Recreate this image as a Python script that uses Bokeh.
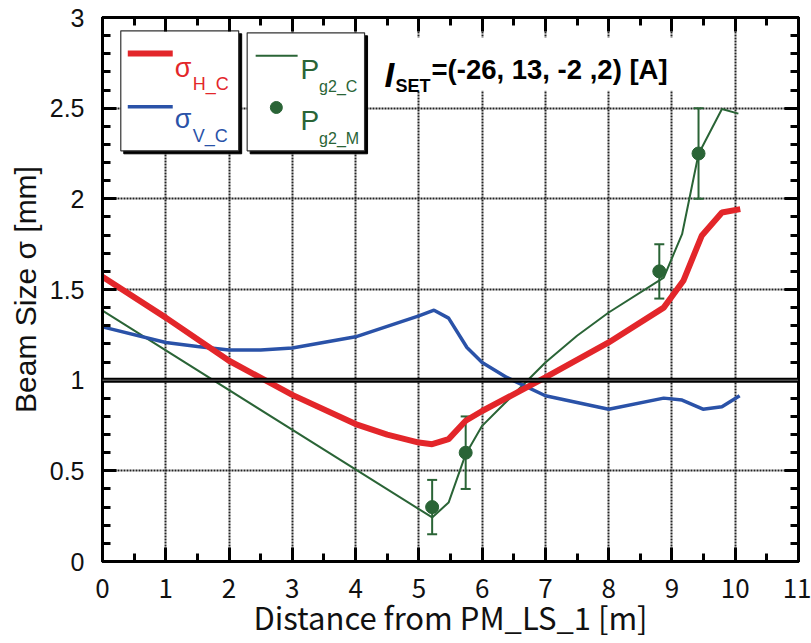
from bokeh.plotting import figure
from bokeh.models import (ColumnDataSource, Range1d, LinearAxis, SingleIntervalTicker,
                          NumeralTickFormatter, CustomJSTickFormatter, Span, Label, Whisker, TeeHead)
from bokeh.embed import file_html
from bokeh.resources import INLINE

# ---------------- data ----------------
sigH_x = [0, 1, 2, 3, 4, 4.5, 5, 5.21, 5.47, 5.74, 6.0, 7.0, 8.0, 8.87, 9.18, 9.47, 9.79, 10.08]
sigH_y = [1.57, 1.345, 1.107, 0.919, 0.758, 0.70, 0.656, 0.647, 0.675, 0.776, 0.83, 1.015, 1.208, 1.40, 1.548, 1.796, 1.925, 1.943]

sigV_x = [0, 1, 1.5, 2, 2.5, 3, 4, 5, 5.24, 5.47, 5.76, 6.0, 6.39, 7.0, 8.0, 8.87, 9.16, 9.49, 9.79, 10.07]
sigV_y = [1.294, 1.208, 1.186, 1.166, 1.166, 1.177, 1.239, 1.355, 1.386, 1.342, 1.18, 1.097, 1.015, 0.914, 0.840, 0.901, 0.89, 0.840, 0.853, 0.914]

pC_x = [0, 5.21, 5.47, 5.74, 6.0, 6.29, 7.0, 7.5, 8.0, 8.87, 9.16, 9.42, 9.79, 10.05]
pC_y = [1.383, 0.243, 0.325, 0.592, 0.748, 0.849, 1.097, 1.245, 1.373, 1.566, 1.805, 2.247, 2.495, 2.47]

pM_x = [5.21, 5.74, 8.80, 9.42]
pM_y = [0.30, 0.60, 1.60, 2.25]
pM_err = [0.15, 0.20, 0.15, 0.25]

X_TITLE = "Distance from PM_LS_1 [m]"
Y_TITLE = "Beam Size σ [mm]"

RED = "#e3262a"
BLUE = "#2a52a8"
GREEN = "#2a6436"

# ---------------- figure ----------------
p = figure(width=811, height=643, output_backend="svg", toolbar_location=None,
           x_range=Range1d(0, 11), y_range=Range1d(0, 3),
           min_border_left=102, min_border_right=13, min_border_top=17, min_border_bottom=82)
p.background_fill_color = "white"
p.border_fill_color = "white"
p.outline_line_color = "black"
p.outline_line_width = 3

xt = SingleIntervalTicker(interval=1, num_minor_ticks=2)
yt = SingleIntervalTicker(interval=0.5, num_minor_ticks=5)

def style_axis(ax):
    ax.axis_line_color = "black"
    ax.axis_line_width = 3
    ax.major_tick_in = 14
    ax.major_tick_out = 0
    ax.minor_tick_in = 8
    ax.minor_tick_out = 0
    ax.major_tick_line_width = 3
    ax.minor_tick_line_width = 3
    ax.major_tick_line_color = "black"
    ax.minor_tick_line_color = "black"

xa = p.xaxis[0]
xa.ticker = xt
style_axis(xa)
xa.major_label_text_font = "Noto Sans CJK JP"
xa.major_label_text_font_size = "26px"
xa.major_label_text_color = "#111"
xa.major_label_standoff = 17
xa.axis_label = X_TITLE
xa.axis_label_text_font = "Noto Sans CJK JP"
xa.axis_label_text_font_size = "31px"
xa.axis_label_text_font_style = "normal"
xa.axis_label_text_color = "#111"
xa.axis_label_standoff = -7

ya = p.yaxis[0]
ya.ticker = yt
style_axis(ya)
ya.formatter = NumeralTickFormatter(format="0.[0]")
ya.major_label_text_font = "Liberation Sans"
ya.major_label_text_font_size = "25px"
ya.major_label_text_color = "#111"
ya.major_label_standoff = 18
ya.axis_label = Y_TITLE
ya.axis_label_text_font = "Liberation Sans"
ya.axis_label_text_font_size = "30px"
ya.axis_label_text_font_style = "normal"
ya.axis_label_text_color = "#111"
ya.axis_label_standoff = 5

blank = CustomJSTickFormatter(code="return ''")
ax_top = LinearAxis(ticker=xt, formatter=blank)
style_axis(ax_top)
p.add_layout(ax_top, "above")
ax_right = LinearAxis(ticker=yt, formatter=blank)
style_axis(ax_right)
p.add_layout(ax_right, "right")

for g in (p.xgrid[0], p.ygrid[0]):
    g.grid_line_color = "#222"
    g.grid_line_width = 2
    g.grid_line_dash = "2 1"
p.xgrid[0].ticker = xt
p.ygrid[0].ticker = yt

p.add_layout(Span(location=1, dimension="width", line_color="black", line_width=5))
p.add_layout(Span(location=1, dimension="width", line_color="#999", line_width=1.5, line_dash="1 1"))

# ---------------- data glyphs ----------------
p.line(pC_x, pC_y, line_color=GREEN, line_width=2)
p.line(sigV_x, sigV_y, line_color=BLUE, line_width=3.5)
p.line(sigH_x, sigH_y, line_color=RED, line_width=6)

src = ColumnDataSource(dict(x=pM_x, y=pM_y,
                            lo=[a - b for a, b in zip(pM_y, pM_err)],
                            hi=[a + b for a, b in zip(pM_y, pM_err)]))
p.add_layout(Whisker(source=src, base="x", upper="hi", lower="lo", line_color=GREEN, line_width=2,
                     upper_head=TeeHead(size=10, line_color=GREEN, line_width=2),
                     lower_head=TeeHead(size=10, line_color=GREEN, line_width=2)))
p.scatter("x", "y", source=src, size=13, fill_color=GREEN, line_color=GREEN)

# ---------------- legend boxes / annotation (decoration) ----------------
PX = 63.33   # px per x unit
PY = 181.33  # px per y unit
def bx(px): return (px - 101.7) / PX
def by(py): return (560.7 - py) / PY

# white background behind annotation text
p.quad(left=bx(381), right=bx(684), top=by(37), bottom=by(90),
       fill_color="white", line_color=None)

for (l, r, t, b) in [(120, 238, 30, 150), (246.5, 364, 32, 150)]:
    p.quad(left=bx(l + 3), right=bx(r + 3), top=by(t + 3), bottom=by(b + 3),
           fill_color="black", line_color="black")
    p.quad(left=bx(l), right=bx(r), top=by(t), bottom=by(b),
           fill_color="white", line_color="#333", line_width=1.2)

p.line([bx(127), bx(172)], [by(52.7), by(52.7)], line_color=RED, line_width=6)
p.line([bx(127), bx(172)], [by(106), by(106)], line_color=BLUE, line_width=3.5)
p.line([bx(255), bx(297)], [by(55), by(55)], line_color=GREEN, line_width=2)
p.scatter([bx(275.7)], [by(106.7)], size=12, fill_color=GREEN, line_color=GREEN)

def lab(px, py, text, color, size, style="normal", font="Liberation Sans", align="left"):
    p.add_layout(Label(x=bx(px), y=by(py), text=text, text_color=color,
                       text_font_size=size, text_font=font, text_font_style=style,
                       text_align=align, text_baseline="alphabetic"))

lab(174, 67, "σ", RED, "27px")
lab(192, 83.5, "H_C", RED, "18px")
lab(174, 118.5, "σ", BLUE, "27px")
lab(192, 135.5, "V_C", BLUE, "18px")
lab(300, 69, "P", GREEN, "28px")
lab(318.5, 86, "g2_C", GREEN, "16px")
lab(300, 120, "P", GREEN, "28px")
lab(318.5, 137.5, "g2_M", GREEN, "16px")

lab(384, 74, "I", "black", "35px", "bold italic")
lab(395, 85.5, "SET", "black", "18px", "bold")
lab(431, 68.5, "=(-26, 13, -2 ,2) [A]", "black", "27.5px", "bold")

open("out.html", "w").write(file_html(p, INLINE))
